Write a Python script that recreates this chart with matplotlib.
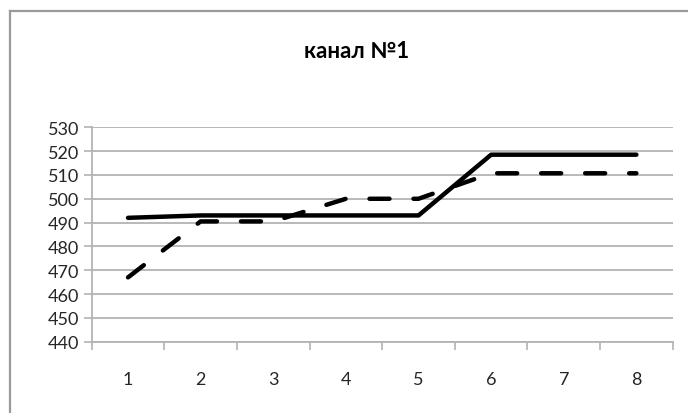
import matplotlib
matplotlib.use("Agg")
import matplotlib.pyplot as plt
from matplotlib.lines import Line2D

# Channel 1 readings per measurement
points = [1, 2, 3, 4, 5, 6, 7, 8]
series_solid = [492, 493, 493, 493, 493, 518.5, 518.5, 518.5]
series_dashed = [467, 490.5, 490.5, 500, 500, 510.7, 510.7, 510.7]
y_ticks = [440, 450, 460, 470, 480, 490, 500, 510, 520, 530]
title_text = "канал №1"

plt.rcParams['font.family'] = ['Lato', 'DejaVu Sans']

fig = plt.figure(figsize=(6.88, 4.14), dpi=100)
fig.patch.set_facecolor("white")

# outer chart frame: only left and top edges lie on the canvas
frame_c = "#9a9a9a"
fx = 10 / 688
fy = 1 - 12 / 414
fig.add_artist(Line2D([fx, fx], [0, fy], transform=fig.transFigure,
                      color=frame_c, linewidth=1.6))
fig.add_artist(Line2D([fx, 1.0], [fy, fy], transform=fig.transFigure,
                      color=frame_c, linewidth=1.6))

ax = fig.add_axes([91.7 / 688, 1 - 342.7 / 414, (672.7 - 91.7) / 688,
                   (342.7 - 128.3) / 414])

grid_c = "#b3b3b3"
ax.set_xlim(0.5, 8.5)
ax.set_ylim(440, 530)
ax.set_yticks(y_ticks)
ax.yaxis.grid(True, color=grid_c, linewidth=1.3)
ax.set_axisbelow(True)

lw = 3.2
ax.plot(points, series_solid, color="black", linewidth=lw,
        solid_capstyle="round", solid_joinstyle="round", zorder=3)
ax.plot(points, series_dashed, color="black", linewidth=lw,
        dashes=(4.5, 5.4), dash_capstyle="round", dash_joinstyle="round",
        zorder=3)

for side in ("top", "right"):
    ax.spines[side].set_visible(False)
ax.spines["left"].set_color(grid_c)
ax.spines["left"].set_linewidth(1.3)
ax.spines["bottom"].set_color(grid_c)
ax.spines["bottom"].set_linewidth(1.3)

ax.set_xticks(points)
ax.set_xticklabels([str(p) for p in points])
ax.set_xticks([p + 0.5 for p in [0] + points], minor=True)
ax.tick_params(axis="x", which="major", length=0, pad=21,
               labelsize=13, labelcolor="#262626")
ax.tick_params(axis="x", which="minor", length=6, width=1.2,
               color=grid_c, direction="out")
ax.tick_params(axis="y", which="major", length=6, width=1.2,
               color=grid_c, pad=3, labelsize=13, labelcolor="#262626")

fig.text(356.7 / 688, 1 - 51 / 414, title_text, ha="center", va="center",
         fontsize=16, fontweight="bold", color="black")

fig.savefig("out.png", dpi=100)
